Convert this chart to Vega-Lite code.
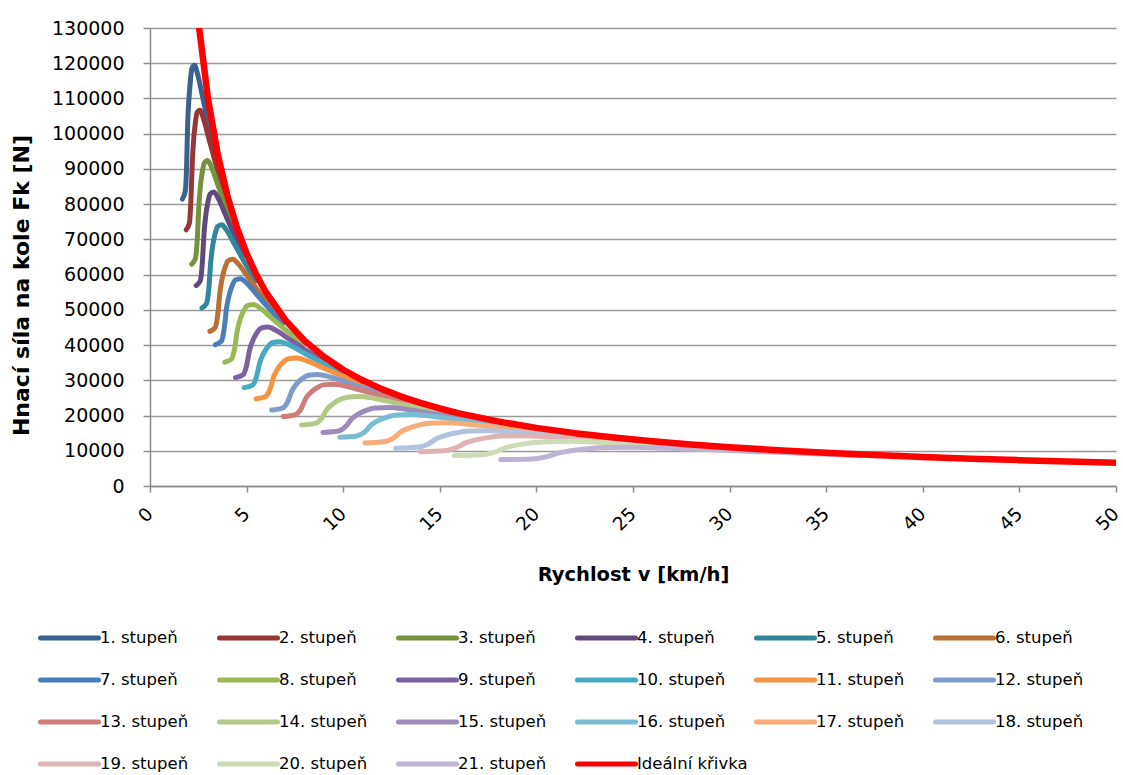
{
  "$schema": "https://vega.github.io/schema/vega-lite/v6.json",
  "width": 966,
  "height": 458,
  "autosize": {"type": "none"},
  "padding": {"left": 150, "top": 28, "right": 7, "bottom": 289},
  "background": "white",
  "config": {
    "view": {"stroke": null},
    "font": "DejaVu Sans",
    "axis": {
      "domainColor": "#8c8c8c",
      "domainWidth": 1.5,
      "tickColor": "#8c8c8c",
      "tickWidth": 1.5,
      "gridColor": "#9a9a9a",
      "gridWidth": 1.5,
      "labelColor": "#000000",
      "titleColor": "#000000",
      "labelFont": "DejaVu Sans",
      "titleFont": "DejaVu Sans"
    },
    "legend": {"labelFont": "DejaVu Sans", "labelColor": "#000000"}
  },
  "datasets": {
    "gears": [
      {"s":"1. stupeň","v":1.67,"F":81440},{"s":"1. stupeň","v":1.82,"F":83530},{"s":"1. stupeň","v":1.89,"F":89820},{"s":"1. stupeň","v":1.95,"F":103000},{"s":"1. stupeň","v":2.02,"F":110180},{"s":"1. stupeň","v":2.09,"F":114970},{"s":"1. stupeň","v":2.17,"F":118560},{"s":"1. stupeň","v":2.30,"F":119460},{"s":"1. stupeň","v":2.47,"F":116770},{"s":"1. stupeň","v":2.71,"F":110780},{"s":"1. stupeň","v":3.01,"F":103110},{"s":"1. stupeň","v":3.39,"F":93710},
      {"s":"2. stupeň","v":1.87,"F":72730},{"s":"2. stupeň","v":2.04,"F":74600},{"s":"2. stupeň","v":2.11,"F":80210},{"s":"2. stupeň","v":2.19,"F":91980},{"s":"2. stupeň","v":2.26,"F":98400},{"s":"2. stupeň","v":2.34,"F":102670},{"s":"2. stupeň","v":2.43,"F":105880},{"s":"2. stupeň","v":2.58,"F":106680},{"s":"2. stupeň","v":2.77,"F":104280},{"s":"2. stupeň","v":3.03,"F":98930},{"s":"2. stupeň","v":3.37,"F":92090},{"s":"2. stupeň","v":3.80,"F":83690},
      {"s":"3. stupeň","v":2.16,"F":62960},{"s":"3. stupeň","v":2.35,"F":64580},{"s":"3. stupeň","v":2.44,"F":69440},{"s":"3. stupeň","v":2.53,"F":79630},{"s":"3. stupeň","v":2.61,"F":85190},{"s":"3. stupeň","v":2.70,"F":88890},{"s":"3. stupeň","v":2.81,"F":91670},{"s":"3. stupeň","v":2.98,"F":92360},{"s":"3. stupeň","v":3.20,"F":90280},{"s":"3. stupeň","v":3.50,"F":85650},{"s":"3. stupeň","v":3.89,"F":79720},{"s":"3. stupeň","v":4.38,"F":72450},
      {"s":"4. stupeň","v":2.39,"F":56900},{"s":"4. stupeň","v":2.61,"F":58370},{"s":"4. stupeň","v":2.70,"F":62760},{"s":"4. stupeň","v":2.80,"F":71970},{"s":"4. stupeň","v":2.89,"F":76990},{"s":"4. stupeň","v":2.99,"F":80330},{"s":"4. stupeň","v":3.11,"F":82850},{"s":"4. stupeň","v":3.30,"F":83470},{"s":"4. stupeň","v":3.54,"F":81590},{"s":"4. stupeň","v":3.87,"F":77410},{"s":"4. stupeň","v":4.30,"F":72050},{"s":"4. stupeň","v":4.85,"F":65480},
      {"s":"5. stupeň","v":2.69,"F":50560},{"s":"5. stupeň","v":2.93,"F":51860},{"s":"5. stupeň","v":3.04,"F":55760},{"s":"5. stupeň","v":3.15,"F":63940},{"s":"5. stupeň","v":3.25,"F":68400},{"s":"5. stupeň","v":3.36,"F":71380},{"s":"5. stupeň","v":3.50,"F":73610},{"s":"5. stupeň","v":3.71,"F":74160},{"s":"5. stupeň","v":3.98,"F":72490},{"s":"5. stupeň","v":4.36,"F":68770},{"s":"5. stupeň","v":4.84,"F":64010},{"s":"5. stupeň","v":5.46,"F":58180},
      {"s":"6. stupeň","v":3.10,"F":43870},{"s":"6. stupeň","v":3.38,"F":45000},{"s":"6. stupeň","v":3.50,"F":48390},{"s":"6. stupeň","v":3.63,"F":55480},{"s":"6. stupeň","v":3.75,"F":59350},{"s":"6. stupeň","v":3.88,"F":61940},{"s":"6. stupeň","v":4.03,"F":63870},{"s":"6. stupeň","v":4.28,"F":64350},{"s":"6. stupeň","v":4.59,"F":62900},{"s":"6. stupeň","v":5.02,"F":59680},{"s":"6. stupeň","v":5.58,"F":55550},{"s":"6. stupeň","v":6.29,"F":50480},
      {"s":"7. stupeň","v":3.39,"F":40120},{"s":"7. stupeň","v":3.70,"F":41150},{"s":"7. stupeň","v":3.83,"F":44250},{"s":"7. stupeň","v":3.97,"F":50740},{"s":"7. stupeň","v":4.10,"F":54280},{"s":"7. stupeň","v":4.24,"F":56640},{"s":"7. stupeň","v":4.41,"F":58410},{"s":"7. stupeň","v":4.68,"F":58850},{"s":"7. stupeň","v":5.02,"F":57520},{"s":"7. stupeň","v":5.49,"F":54570},{"s":"7. stupeň","v":6.10,"F":50800},{"s":"7. stupeň","v":6.88,"F":46170},
      {"s":"8. stupeň","v":3.87,"F":35140},{"s":"8. stupeň","v":4.22,"F":36050},{"s":"8. stupeň","v":4.37,"F":38760},{"s":"8. stupeň","v":4.53,"F":44440},{"s":"8. stupeň","v":4.68,"F":47550},{"s":"8. stupeň","v":4.84,"F":49610},{"s":"8. stupeň","v":5.03,"F":51160},{"s":"8. stupeň","v":5.34,"F":51550},{"s":"8. stupeň","v":5.73,"F":50390},{"s":"8. stupeň","v":6.27,"F":47800},{"s":"8. stupeň","v":6.97,"F":44500},{"s":"8. stupeň","v":7.86,"F":40440},
      {"s":"9. stupeň","v":4.42,"F":30770},{"s":"9. stupeň","v":4.82,"F":31560},{"s":"9. stupeň","v":4.99,"F":33940},{"s":"9. stupeň","v":5.17,"F":38910},{"s":"9. stupeň","v":5.35,"F":41630},{"s":"9. stupeň","v":5.53,"F":43440},{"s":"9. stupeň","v":5.75,"F":44800},{"s":"9. stupeň","v":6.10,"F":45140},{"s":"9. stupeň","v":6.54,"F":44120},{"s":"9. stupeň","v":7.16,"F":41860},{"s":"9. stupeň","v":7.96,"F":38960},{"s":"9. stupeň","v":8.97,"F":35410},
      {"s":"10. stupeň","v":4.87,"F":27930},{"s":"10. stupeň","v":5.31,"F":28640},{"s":"10. stupeň","v":5.50,"F":30800},{"s":"10. stupeň","v":5.70,"F":35320},{"s":"10. stupeň","v":5.89,"F":37780},{"s":"10. stupeň","v":6.09,"F":39430},{"s":"10. stupeň","v":6.33,"F":40660},{"s":"10. stupeň","v":6.72,"F":40970},{"s":"10. stupeň","v":7.21,"F":40040},{"s":"10. stupeň","v":7.89,"F":37990},{"s":"10. stupeň","v":8.77,"F":35360},{"s":"10. stupeň","v":9.89,"F":32140},
      {"s":"11. stupeň","v":5.49,"F":24770},{"s":"11. stupeň","v":5.98,"F":25410},{"s":"11. stupeň","v":6.20,"F":27320},{"s":"11. stupeň","v":6.42,"F":31330},{"s":"11. stupeň","v":6.64,"F":33520},{"s":"11. stupeň","v":6.86,"F":34970},{"s":"11. stupeň","v":7.14,"F":36070},{"s":"11. stupeň","v":7.58,"F":36340},{"s":"11. stupeň","v":8.13,"F":35520},{"s":"11. stupeň","v":8.89,"F":33700},{"s":"11. stupeň","v":9.88,"F":31370},{"s":"11. stupeň","v":11.14,"F":28510},
      {"s":"12. stupeň","v":6.30,"F":21590},{"s":"12. stupeň","v":6.87,"F":22140},{"s":"12. stupeň","v":7.12,"F":23810},{"s":"12. stupeň","v":7.37,"F":27300},{"s":"12. stupeň","v":7.62,"F":29210},{"s":"12. stupeň","v":7.88,"F":30480},{"s":"12. stupeň","v":8.19,"F":31430},{"s":"12. stupeň","v":8.69,"F":31670},{"s":"12. stupeň","v":9.32,"F":30950},{"s":"12. stupeň","v":10.21,"F":29370},{"s":"12. stupeň","v":11.34,"F":27330},{"s":"12. stupeň","v":12.79,"F":24840},
      {"s":"13. stupeň","v":6.90,"F":19710},{"s":"13. stupeň","v":7.52,"F":20220},{"s":"13. stupeň","v":7.80,"F":21740},{"s":"13. stupeň","v":8.07,"F":24930},{"s":"13. stupeň","v":8.35,"F":26670},{"s":"13. stupeň","v":8.63,"F":27830},{"s":"13. stupeň","v":8.97,"F":28700},{"s":"13. stupeň","v":9.52,"F":28910},{"s":"13. stupeň","v":10.21,"F":28260},{"s":"13. stupeň","v":11.18,"F":26810},{"s":"13. stupeň","v":12.42,"F":24960},{"s":"13. stupeň","v":14.01,"F":22680},
      {"s":"14. stupeň","v":7.85,"F":17320},{"s":"14. stupeň","v":8.56,"F":17770},{"s":"14. stupeň","v":8.87,"F":19110},{"s":"14. stupeň","v":9.18,"F":21910},{"s":"14. stupeň","v":9.50,"F":23440},{"s":"14. stupeň","v":9.81,"F":24460},{"s":"14. stupeň","v":10.21,"F":25220},{"s":"14. stupeň","v":10.83,"F":25410},{"s":"14. stupeň","v":11.62,"F":24840},{"s":"14. stupeň","v":12.72,"F":23570},{"s":"14. stupeň","v":14.13,"F":21940},{"s":"14. stupeň","v":15.94,"F":19940},
      {"s":"15. stupeň","v":8.95,"F":15200},{"s":"15. stupeň","v":9.76,"F":15590},{"s":"15. stupeň","v":10.11,"F":16760},{"s":"15. stupeň","v":10.47,"F":19220},{"s":"15. stupeň","v":10.83,"F":20560},{"s":"15. stupeň","v":11.19,"F":21450},{"s":"15. stupeň","v":11.64,"F":22120},{"s":"15. stupeň","v":12.35,"F":22290},{"s":"15. stupeň","v":13.25,"F":21790},{"s":"15. stupeň","v":14.50,"F":20670},{"s":"15. stupeň","v":16.11,"F":19240},{"s":"15. stupeň","v":18.17,"F":17490},
      {"s":"16. stupeň","v":9.82,"F":13850},{"s":"16. stupeň","v":10.70,"F":14210},{"s":"16. stupeň","v":11.10,"F":15270},{"s":"16. stupeň","v":11.49,"F":17520},{"s":"16. stupeň","v":11.88,"F":18740},{"s":"16. stupeň","v":12.28,"F":19550},{"s":"16. stupeň","v":12.77,"F":20160},{"s":"16. stupeň","v":13.55,"F":20320},{"s":"16. stupeň","v":14.53,"F":19860},{"s":"16. stupeň","v":15.91,"F":18840},{"s":"16. stupeň","v":17.68,"F":17540},{"s":"16. stupeň","v":19.93,"F":15940},
      {"s":"17. stupeň","v":11.12,"F":12230},{"s":"17. stupeň","v":12.12,"F":12540},{"s":"17. stupeň","v":12.57,"F":13490},{"s":"17. stupeň","v":13.01,"F":15470},{"s":"17. stupeň","v":13.46,"F":16550},{"s":"17. stupeň","v":13.90,"F":17270},{"s":"17. stupeň","v":14.46,"F":17810},{"s":"17. stupeň","v":15.35,"F":17940},{"s":"17. stupeň","v":16.46,"F":17540},{"s":"17. stupeň","v":18.01,"F":16640},{"s":"17. stupeň","v":20.02,"F":15490},{"s":"17. stupeň","v":22.57,"F":14070},
      {"s":"18. stupeň","v":12.71,"F":10700},{"s":"18. stupeň","v":13.85,"F":10980},{"s":"18. stupeň","v":14.36,"F":11800},{"s":"18. stupeň","v":14.87,"F":13530},{"s":"18. stupeň","v":15.38,"F":14480},{"s":"18. stupeň","v":15.89,"F":15110},{"s":"18. stupeň","v":16.52,"F":15580},{"s":"18. stupeň","v":17.54,"F":15700},{"s":"18. stupeň","v":18.81,"F":15340},{"s":"18. stupeň","v":20.59,"F":14560},{"s":"18. stupeň","v":22.88,"F":13550},{"s":"18. stupeň","v":25.80,"F":12310},
      {"s":"19. stupeň","v":13.98,"F":9730},{"s":"19. stupeň","v":15.24,"F":9980},{"s":"19. stupeň","v":15.80,"F":10730},{"s":"19. stupeň","v":16.36,"F":12300},{"s":"19. stupeň","v":16.92,"F":13160},{"s":"19. stupeň","v":17.48,"F":13730},{"s":"19. stupeň","v":18.17,"F":14160},{"s":"19. stupeň","v":19.29,"F":14270},{"s":"19. stupeň","v":20.69,"F":13950},{"s":"19. stupeň","v":22.65,"F":13230},{"s":"19. stupeň","v":25.16,"F":12320},{"s":"19. stupeň","v":28.38,"F":11190},
      {"s":"20. stupeň","v":15.75,"F":8630},{"s":"20. stupeň","v":17.17,"F":8860},{"s":"20. stupeň","v":17.80,"F":9520},{"s":"20. stupeň","v":18.43,"F":10920},{"s":"20. stupeň","v":19.06,"F":11680},{"s":"20. stupeň","v":19.69,"F":12190},{"s":"20. stupeň","v":20.48,"F":12570},{"s":"20. stupeň","v":21.74,"F":12670},{"s":"20. stupeň","v":23.31,"F":12380},{"s":"20. stupeň","v":25.52,"F":11750},{"s":"20. stupeň","v":28.35,"F":10930},{"s":"20. stupeň","v":31.97,"F":9940},
      {"s":"21. stupeň","v":18.15,"F":7490},{"s":"21. stupeň","v":19.78,"F":7690},{"s":"21. stupeň","v":20.51,"F":8260},{"s":"21. stupeň","v":21.24,"F":9480},{"s":"21. stupeň","v":21.96,"F":10140},{"s":"21. stupeň","v":22.69,"F":10580},{"s":"21. stupeň","v":23.60,"F":10910},{"s":"21. stupeň","v":25.05,"F":10990},{"s":"21. stupeň","v":26.86,"F":10740},{"s":"21. stupeň","v":29.40,"F":10190},{"s":"21. stupeň","v":32.67,"F":9490},{"s":"21. stupeň","v":36.84,"F":8620}
    ],
    "ideal": [
      {"s":"Ideální křivka","v":2.5,"F":132000},{"s":"Ideální křivka","v":3,"F":110000},{"s":"Ideální křivka","v":3.5,"F":94286},{"s":"Ideální křivka","v":4,"F":82500},{"s":"Ideální křivka","v":4.5,"F":73333},{"s":"Ideální křivka","v":5,"F":66000},{"s":"Ideální křivka","v":5.5,"F":60000},{"s":"Ideální křivka","v":6,"F":55000},{"s":"Ideální křivka","v":7,"F":47143},{"s":"Ideální křivka","v":8,"F":41250},{"s":"Ideální křivka","v":9,"F":36667},{"s":"Ideální křivka","v":10,"F":33000},{"s":"Ideální křivka","v":11,"F":30000},{"s":"Ideální křivka","v":12,"F":27500},{"s":"Ideální křivka","v":13,"F":25385},{"s":"Ideální křivka","v":14,"F":23571},{"s":"Ideální křivka","v":15,"F":22000},{"s":"Ideální křivka","v":16,"F":20625},{"s":"Ideální křivka","v":18,"F":18333},{"s":"Ideální křivka","v":20,"F":16500},{"s":"Ideální křivka","v":22,"F":15000},{"s":"Ideální křivka","v":24,"F":13750},{"s":"Ideální křivka","v":26,"F":12692},{"s":"Ideální křivka","v":28,"F":11786},{"s":"Ideální křivka","v":30,"F":11000},{"s":"Ideální křivka","v":32.5,"F":10154},{"s":"Ideální křivka","v":35,"F":9429},{"s":"Ideální křivka","v":37.5,"F":8800},{"s":"Ideální křivka","v":40,"F":8250},{"s":"Ideální křivka","v":42.5,"F":7765},{"s":"Ideální křivka","v":45,"F":7333},{"s":"Ideální křivka","v":47.5,"F":6947},{"s":"Ideální křivka","v":50,"F":6600}
    ]
  },
  "encoding": {
    "x": {
      "field": "v", "type": "quantitative",
      "scale": {"domain": [0, 50], "nice": false},
      "axis": {
        "title": "Rychlost v [km/h]",
        "titleFontSize": 19.5, "titleFontWeight": "bold",
        "titleBaseline": "alphabetic", "titleY": 94,
        "values": [0, 5, 10, 15, 20, 25, 30, 35, 40, 45, 50],
        "labelAngle": -45, "labelAlign": "right", "labelBaseline": "top",
        "labelFontSize": 18.5, "labelPadding": 12, "labelOffset": -7,
        "tickSize": 6, "grid": false, "labelFlush": false, "labelOverlap": false
      }
    },
    "y": {
      "field": "F", "type": "quantitative",
      "scale": {"domain": [0, 130000], "nice": false},
      "axis": {
        "title": "Hnací síla na kole Fk [N]",
        "titleFontSize": 22, "titleFontWeight": "bold",
        "titleX": -117, "titleY": 257,
        "values": [0, 10000, 20000, 30000, 40000, 50000, 60000, 70000, 80000, 90000, 100000, 110000, 120000, 130000],
        "format": "d", "labelFontSize": 19, "labelPadding": 19,
        "tickSize": 7, "grid": true, "labelFlush": false, "labelOverlap": false
      }
    },
    "color": {
      "field": "s", "type": "nominal",
      "scale": {
        "domain": ["1. stupeň","2. stupeň","3. stupeň","4. stupeň","5. stupeň","6. stupeň","7. stupeň","8. stupeň","9. stupeň","10. stupeň","11. stupeň","12. stupeň","13. stupeň","14. stupeň","15. stupeň","16. stupeň","17. stupeň","18. stupeň","19. stupeň","20. stupeň","21. stupeň","Ideální křivka"],
        "range": ["#3B618E","#953735","#76923C","#604A7B","#31859C","#B97034","#4A7EBB","#98B954","#7D60A0","#46AAC5","#F69240","#7F9BC9","#CF7C7A","#B2CA85","#9E8BBC","#79BCD3","#F8AC7A","#B3C3DE","#DDB4B3","#CDDCB6","#BEB3D2","#FF0000"]
      },
      "legend": {
        "title": null, "orient": "none", "legendX": -112, "legendY": 600,
        "direction": "horizontal", "columns": 6, "gridAlign": "all",
        "symbolType": "stroke", "symbolSize": 3364, "symbolStrokeWidth": 5,
        "labelFontSize": 16.5, "labelOffset": -1, "labelLimit": 200,
        "columnPadding": 6, "rowPadding": 22, "clipHeight": 20,
        "padding": 0, "symbolLimit": 40,
        "encode": {"symbols": {"update": {"strokeCap": {"value": "round"}}}}
      }
    }
  },
  "layer": [
    {
      "data": {"name": "gears"},
      "mark": {"type": "line", "strokeWidth": 5, "strokeCap": "round", "strokeJoin": "round", "interpolate": "monotone", "clip": true}
    },
    {
      "data": {"name": "ideal"},
      "mark": {"type": "line", "strokeWidth": 6.5, "strokeCap": "round", "strokeJoin": "round", "clip": true}
    }
  ]
}
